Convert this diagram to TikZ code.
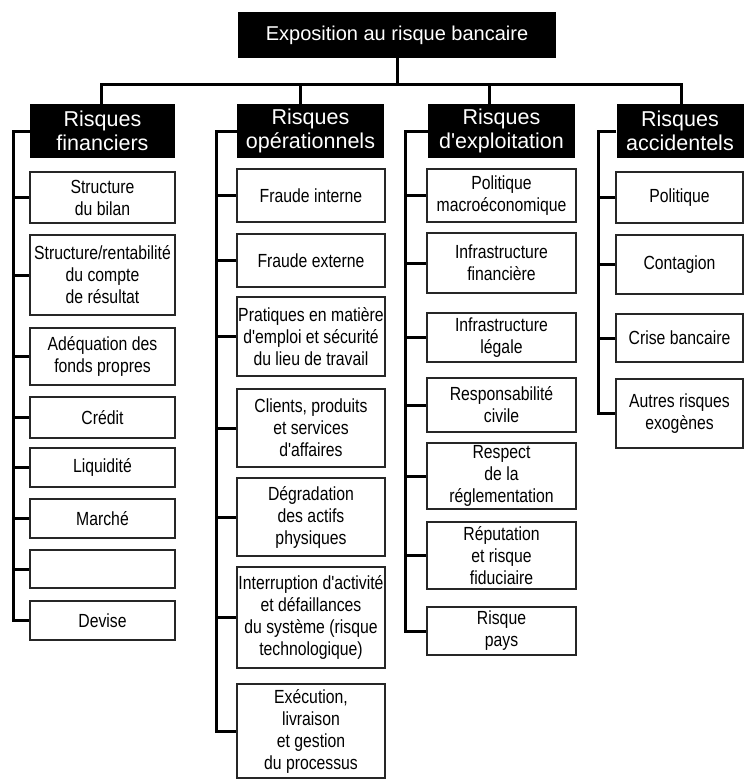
\documentclass[tikz,border=0pt]{standalone}
\usepackage{fontspec}
\setmainfont{Liberation Sans}
\newfontfamily\leaffont{Liberation Sans}[FakeStretch=0.83]
\begin{document}
\begin{tikzpicture}[x=1pt,y=-1pt,
  conn/.style={line width=3pt, draw=black},
  titlebox/.style={fill=black, text=white, minimum width=318pt, minimum height=46pt,
    inner sep=0pt, font=\fontsize{20}{24}\selectfont},
  headbox/.style={fill=black, text=white, minimum height=54pt, inner sep=0pt,
    align=center, font=\fontsize{21.5}{24}\selectfont},
  leaf/.style={draw=black!85, line width=1.6pt, fill=white, text=black,
    inner sep=0pt, align=center, font=\leaffont\fontsize{19}{22}\selectfont},
  colA/.style={minimum width=145pt},
  colB/.style={minimum width=148pt},
  colC/.style={minimum width=149pt},
  colD/.style={minimum width=127pt}]
\useasboundingbox (0,0) rectangle (744,779);
\fill[white] (0,0) rectangle (744,779);

% root
\node[titlebox] (top) at (397,35) {Exposition au risque bancaire};

% category headers
\node[headbox, minimum width=145pt] (h1) at (102.5,131) {Risques\\financiers};
\node[headbox, minimum width=147pt] (h2) at (310.5,131) {Risques\\opérationnels};
\node[headbox, minimum width=147pt] (h3) at (501.5,131) {Risques\\d\textquotesingle exploitation};
\node[headbox, minimum width=127pt] (h4) at (680,131) {Risques\\accidentels};

% financial risks
\node[leaf, colA, minimum height=51pt] (f1) at (102.5,197.5) {Structure\\du bilan};
\node[leaf, colA, minimum height=80pt] (f2) at (102.5,275) {Structure/rentabilité\\du compte\\de résultat};
\node[leaf, colA, minimum height=57pt] (f3) at (102.5,356.5) {Adéquation des\\fonds propres};
\node[leaf, colA, minimum height=41pt] (f4) at (102.5,417.5) {Crédit};
\node[leaf, colA, minimum height=39pt] (f5) at (102.5,467.5) {Liquidité};
\node[leaf, colA, minimum height=39pt] (f6) at (102.5,518.5) {Marché};
\node[leaf, colA, minimum height=38pt] (f7) at (102.5,569) {};
\node[leaf, colA, minimum height=39pt] (f8) at (102.5,620.5) {Devise};

% operational risks
\node[leaf, colB, minimum height=53pt] (o1) at (311,195.5) {Fraude interne};
\node[leaf, colB, minimum height=53pt] (o2) at (311,260.5) {Fraude externe};
\node[leaf, colB, minimum height=79pt] (o3) at (311,336.5) {Pratiques en matière\\d'emploi et sécurité\\du lieu de travail};
\node[leaf, colB, minimum height=78pt] (o4) at (311,428) {Clients, produits\\et services\\d'affaires};
\node[leaf, colB, minimum height=78pt] (o5) at (311,517) {Dégradation\\des actifs\\physiques};
\node[leaf, colB, minimum height=101pt] (o6) at (311,617.5) {Interruption d'activité\\et défaillances\\du système (risque\\technologique)};
\node[leaf, colB, minimum height=94pt] (o7) at (311,731) {Exécution,\\livraison\\et gestion\\du processus};

% operating risks
\node[leaf, colC, minimum height=53pt] (e1) at (501.5,195.5) {Politique\\macroéconomique};
\node[leaf, colC, minimum height=60pt] (e2) at (501.5,263) {Infrastructure\\financière};
\node[leaf, colC, minimum height=49pt] (e3) at (501.5,337.5) {Infrastructure\\légale};
\node[leaf, colC, minimum height=54pt] (e4) at (501.5,405) {Responsabilité\\civile};
\node[leaf, colC, minimum height=66pt] (e5) at (501.5,476) {Respect\\de la\\réglementation};
\node[leaf, colC, minimum height=67pt] (e6) at (501.5,555.5) {Réputation\\et risque\\fiduciaire};
\node[leaf, colC, minimum height=48pt] (e7) at (501.5,631) {Risque\\pays};

% event risks
\node[leaf, colD, minimum height=51pt] (a1) at (679.5,197.5) {Politique};
\node[leaf, colD, minimum height=59pt] (a2) at (679.5,264.5) {Contagion};
\node[leaf, colD, minimum height=48pt] (a3) at (679.5,338) {Crise bancaire};
\node[leaf, colD, minimum height=69pt] (a4) at (679.5,413.5) {Autres risques\\exogènes};

% branching from the root to the headers
\coordinate (b1) at (101,84);
\coordinate (b2) at (300,84);
\coordinate (b3) at (489,84);
\coordinate (b4) at (681,84);
\draw[conn] (top.south) -- (top.south |- b1);
\draw[conn] (b1 |- h1.north) -- (b1) -- (b4) -- (b4 |- h4.north);
\draw[conn] (b2) -- (b2 |- h2.north);
\draw[conn] (b3) -- (b3 |- h3.north);

% spines down the left side of each column
\coordinate (s1) at (13,131);
\coordinate (s2) at (216,131);
\coordinate (s3) at (405,131);
\coordinate (s4) at (598,131);
\draw[conn] (h1.west) -- (s1) |- (f8.west);
\draw[conn] (h2.west) -- (s2) |- (o7.west);
\draw[conn] (h3.west) -- (s3) |- (e7.west);
\draw[conn] (h4.west) -- (s4) |- (a4.west);
\foreach \n in {f1,f2,f3,f4,f5,f6,f7} \draw[conn] (\n.west) -- (\n.west -| s1);
\foreach \n in {o1,o2,o3,o4,o5,o6} \draw[conn] (\n.west) -- (\n.west -| s2);
\foreach \n in {e1,e2,e3,e4,e5,e6} \draw[conn] (\n.west) -- (\n.west -| s3);
\foreach \n in {a1,a2,a3} \draw[conn] (\n.west) -- (\n.west -| s4);
\end{tikzpicture}
\end{document}
